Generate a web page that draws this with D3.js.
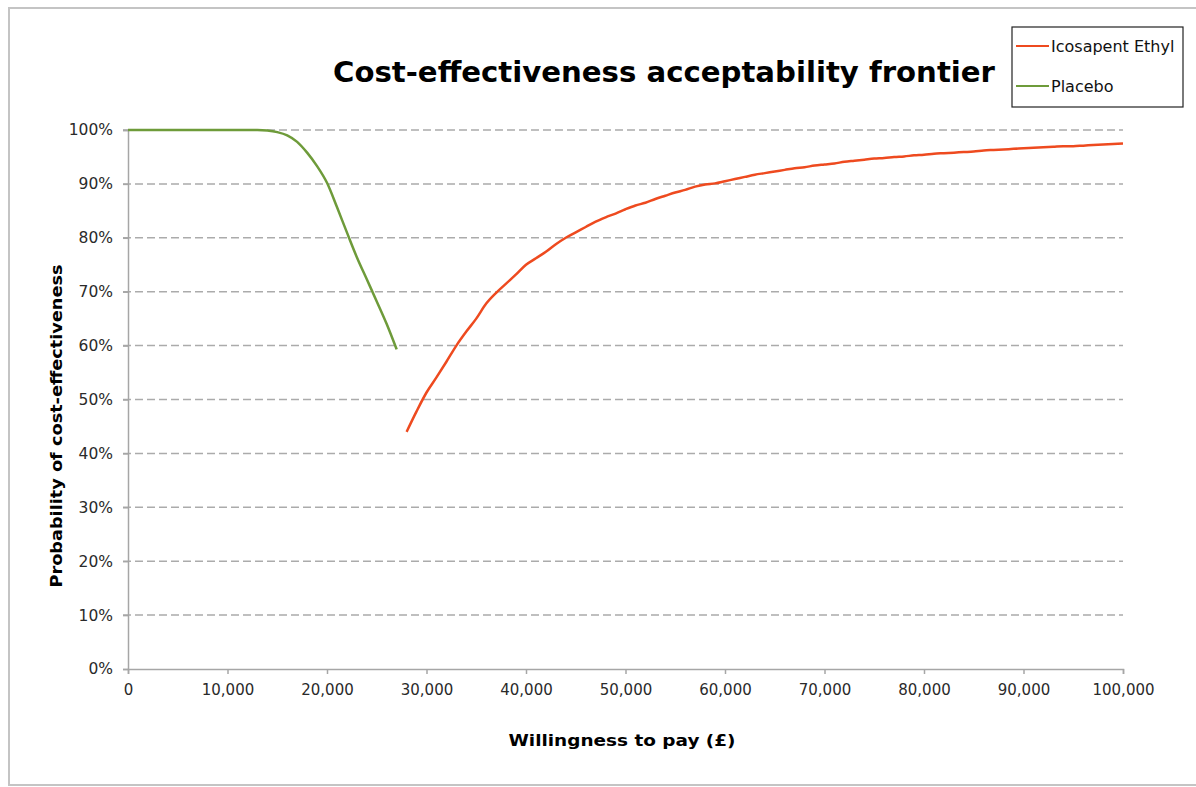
<!DOCTYPE html>
<html><head><meta charset="utf-8">
<script src="https://cdn.jsdelivr.net/npm/d3@7"></script>
<style>
html,body{margin:0;padding:0;background:#fff;}
svg{display:block;}
</style></head>
<body>
<svg id="chart" width="1196" height="787"></svg>
<script>
// ---- data ----
const placeboWTP = [0,1000,2000,3000,4000,5000,6000,7000,8000,9000,10000,11000,12000,13000,14000,15000,16000,17000,18000,19000,20000,21000,22000,23000,24000,25000,26000,27000];
const placeboProb = [100,100,100,100,100,100,100,100,100,100,100,100,100,100,99.9,99.6,99.0,97.8,95.8,93.3,90.2,85.7,81.0,76.4,72.3,68.2,64.0,59.3];

const icosaWTP = [28000,29000,30000,31000,32000,33000,34000,35000,36000,37000,38000,39000,40000,41000,42000,43000,44000,45000,46000,47000,48000,49000,50000,51000,52000,53000,54000,55000,56000,57000,58000,59000,60000,61000,62000,63000,64000,65000,66000,67000,68000,69000,70000,71000,72000,73000,74000,75000,76000,77000,78000,79000,80000,81000,82000,83000,84000,85000,86000,87000,88000,89000,90000,91000,92000,93000,94000,95000,96000,97000,98000,99000,100000];
const icosaProb = [44.0,47.8,51.3,54.1,57.0,60.0,62.6,65.0,67.8,69.8,71.5,73.2,75.0,76.2,77.4,78.8,80.0,81.0,82.0,83.0,83.8,84.5,85.3,86.0,86.5,87.2,87.8,88.4,88.9,89.5,89.9,90.1,90.5,90.9,91.3,91.7,92.0,92.3,92.6,92.9,93.1,93.4,93.6,93.8,94.1,94.3,94.5,94.7,94.8,95.0,95.1,95.3,95.4,95.6,95.7,95.8,95.9,96.0,96.2,96.3,96.4,96.5,96.6,96.7,96.8,96.9,97.0,97.0,97.1,97.2,97.3,97.4,97.5];

const xTicks = [0,10000,20000,30000,40000,50000,60000,70000,80000,90000,100000];
const yTicks = [0,10,20,30,40,50,60,70,80,90,100];
const seriesNames = ["Icosapent Ethyl","Placebo"];
const seriesColors = ["#EE4A1F","#6E9B3A"];
const titleText = "Cost-effectiveness acceptability frontier";
const xLabel = "Willingness to pay (£)";
const yLabel = "Probability of cost-effectiveness";

// ---- layout ----
const svg = d3.select("#chart");
const font = "'DejaVu Sans', Verdana, sans-serif";
const L = 128, R = 1123, T = 130, B = 669;

const x = d3.scaleLinear().domain([0,100000]).range([L,R]);
const y = d3.scaleLinear().domain([0,100]).range([B,T]);

// outer frame
svg.append("rect").attr("x",9).attr("y",8).attr("width",1200).attr("height",777)
  .attr("fill","#fff").attr("stroke","#c4c4c4").attr("stroke-width",2);

// title
svg.append("text").attr("x",664).attr("y",82).attr("text-anchor","middle")
  .attr("font-family",font).attr("font-weight","bold").attr("font-size",29)
  .attr("textLength",662).attr("lengthAdjust","spacingAndGlyphs")
  .attr("fill","#000").text(titleText);

// gridlines
svg.append("g").selectAll("line").data(yTicks.filter(d=>d>0)).join("line")
  .attr("x1",L-5).attr("x2",R).attr("y1",d=>y(d)).attr("y2",d=>y(d))
  .attr("stroke","#ababab").attr("stroke-width",1.5).attr("stroke-dasharray","8,4");

// y axis
const yAxis = d3.axisLeft(y).tickValues(yTicks).tickFormat(d=>d+"%").tickSize(5).tickPadding(10);
const gy = svg.append("g").attr("transform",`translate(${L},0)`).call(yAxis);
gy.select(".domain").attr("stroke","#a6a6a6").attr("stroke-width",1.5);
gy.selectAll(".tick line").attr("stroke","#a6a6a6").attr("stroke-width",1.5);
gy.selectAll(".tick text").attr("font-family",font).attr("font-size",15.5).attr("fill","#2a2a2a");

// x axis
const xAxis = d3.axisBottom(x).tickValues(xTicks).tickFormat(d3.format(",")).tickSize(5).tickPadding(10);
const gx = svg.append("g").attr("transform",`translate(0,${B})`).call(xAxis);
gx.select(".domain").attr("stroke","#a6a6a6").attr("stroke-width",1.5);
gx.selectAll(".tick line").attr("stroke","#a6a6a6").attr("stroke-width",1.5);
gx.selectAll(".tick text").attr("font-family",font).attr("font-size",15).attr("fill","#2a2a2a");

// axis labels
svg.append("text").attr("x",622).attr("y",746).attr("text-anchor","middle")
  .attr("font-family",font).attr("font-weight","bold").attr("font-size",16)
  .attr("textLength",227).attr("lengthAdjust","spacingAndGlyphs")
  .attr("fill","#000").text(xLabel);
svg.append("text").attr("transform","translate(62,426) rotate(-90)").attr("text-anchor","middle")
  .attr("font-family",font).attr("font-weight","bold").attr("font-size",16)
  .attr("textLength",323).attr("lengthAdjust","spacingAndGlyphs")
  .attr("fill","#000").text(yLabel);

// lines
const line = d3.line().x(d=>x(d[0])).y(d=>y(d[1])).curve(d3.curveMonotoneX);
svg.append("path").datum(placeboWTP.map((v,i)=>[v,placeboProb[i]]))
  .attr("d",line).attr("fill","none").attr("stroke",seriesColors[1]).attr("stroke-width",2.5);
svg.append("path").datum(icosaWTP.map((v,i)=>[v,icosaProb[i]]))
  .attr("d",line).attr("fill","none").attr("stroke",seriesColors[0]).attr("stroke-width",2.5);

// legend
const lg = svg.append("g");
lg.append("rect").attr("x",1012).attr("y",27).attr("width",171).attr("height",80)
  .attr("fill","#fff").attr("stroke","#222").attr("stroke-width",1.2);
seriesNames.forEach((n,i)=>{
  const yy = 46 + i*40;
  lg.append("line").attr("x1",1016).attr("x2",1049).attr("y1",yy).attr("y2",yy)
    .attr("stroke",seriesColors[i]).attr("stroke-width",2);
  lg.append("text").attr("x",1051).attr("y",yy+6).attr("font-family",font)
    .attr("font-size",16).attr("fill","#111").text(n);
});
</script>
</body></html>
